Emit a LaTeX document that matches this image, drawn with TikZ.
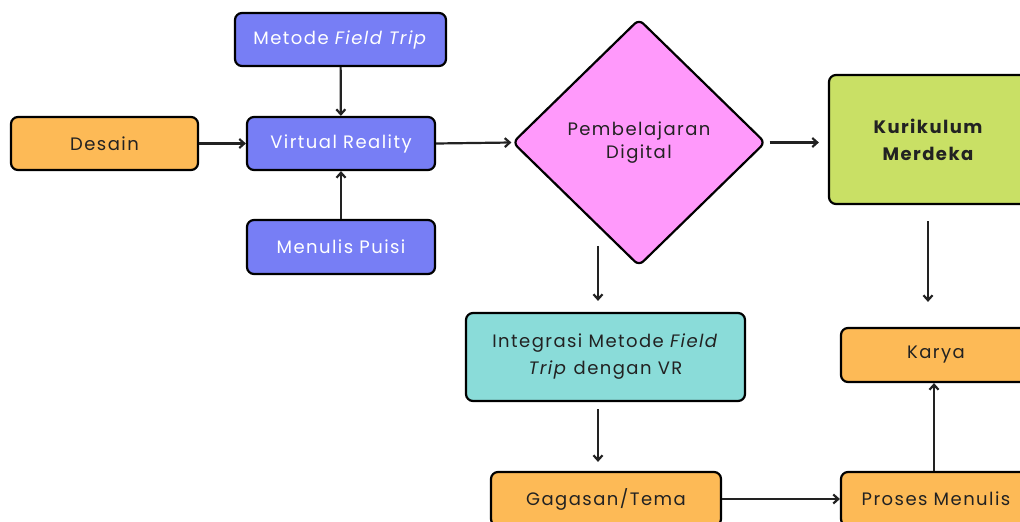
\documentclass[tikz,border=0pt]{standalone}
\usepackage{fontspec}
\setmainfont{Poppins}[LetterSpace=8]
\usetikzlibrary{arrows.meta,shapes.geometric,calc}
\definecolor{boxorange}{HTML}{FDBA56}
\definecolor{boxblue}{HTML}{777EF5}
\definecolor{boxpink}{HTML}{FF99FB}
\definecolor{boxlime}{HTML}{C9E065}
\definecolor{boxteal}{HTML}{8ADCD9}
\definecolor{ink}{HTML}{222222}
\begin{document}
\begin{tikzpicture}[x=1pt,y=-1pt,
  font=\fontsize{18}{23}\selectfont,
  box/.style={draw=black, line width=2.2pt, rounded corners=7pt, inner sep=0pt,
    align=center, text=ink},
  orangebox/.style={box, fill=boxorange},
  bluebox/.style={box, fill=boxblue, text=white},
  arr/.style={-{Straight Barb[length=5pt,width=9pt]}, line width=2.2pt, draw=ink}]
\useasboundingbox (0,0) rectangle (1020,522);

% left cluster
\node[orangebox, minimum width=187pt, minimum height=53pt] (desain) at (104.5,143.5) {Desain};
\node[bluebox, minimum width=211pt, minimum height=53pt] (metode) at (340.5,39.5) {Metode \textit{Field Trip}};
\node[bluebox, minimum width=188pt, minimum height=53pt] (vr) at (341,143.5) {Virtual Reality};
\node[bluebox, minimum width=188pt, minimum height=54pt] (puisi) at (341,247) {Menulis Puisi};

% decision
\node[draw=black, line width=2.2pt, fill=boxpink, shape=diamond, rounded corners=6pt,
  minimum width=253pt, minimum height=247pt, inner sep=0pt, align=center, text=ink]
  (dia) at (639,142.5) {Pembelajaran\\Digital};

% right column
\node[box, fill=boxlime, minimum width=198pt, minimum height=129pt, font=\fontsize{18}{27}\selectfont\bfseries]
  (kur) at (928,139.5) {Kurikulum\\Merdeka};
\node[orangebox, minimum width=190pt, minimum height=54pt] (karya) at (936,355) {Karya};
\node[orangebox, minimum width=190pt, minimum height=54pt] (proses) at (936,499) {Proses Menulis};

% lower middle
\node[box, fill=boxteal, minimum width=279pt, minimum height=88pt, font=\fontsize{18}{27}\selectfont]
  (integ) at (605.5,357) {Integrasi Metode \textit{Field}\\\textit{Trip} dengan VR};
\node[orangebox, minimum width=230pt, minimum height=54pt] (gag) at (606,499) {Gagasan/Tema};

% connectors
\draw[arr] (metode) -- (vr);
\draw[arr] (puisi) -- (vr);
\draw[arr] (desain) -- (vr);
\draw[arr] (vr.east) -- (dia.west);
\draw[arr, shorten <=3pt, shorten >=9pt] (dia.east) -- (dia.east -| kur.west);
\draw[arr] ([xshift=-7.5pt,yshift=66pt]integ.north) -- ([xshift=-7.5pt,yshift=11pt]integ.north);
\draw[arr, shorten <=16pt, shorten >=25pt] (kur.south) -- (kur.south |- karya.north);
\draw[arr, shorten <=7pt, shorten >=9pt] ([xshift=-7.5pt]integ.south) -- ([xshift=-7.5pt]integ.south |- gag.north);
\draw[arr] (gag.east) -- (gag.east -| proses.west);
\draw[arr] ([xshift=-2pt]proses.north) -- ([xshift=-2pt]karya.south);
\end{tikzpicture}
\end{document}
